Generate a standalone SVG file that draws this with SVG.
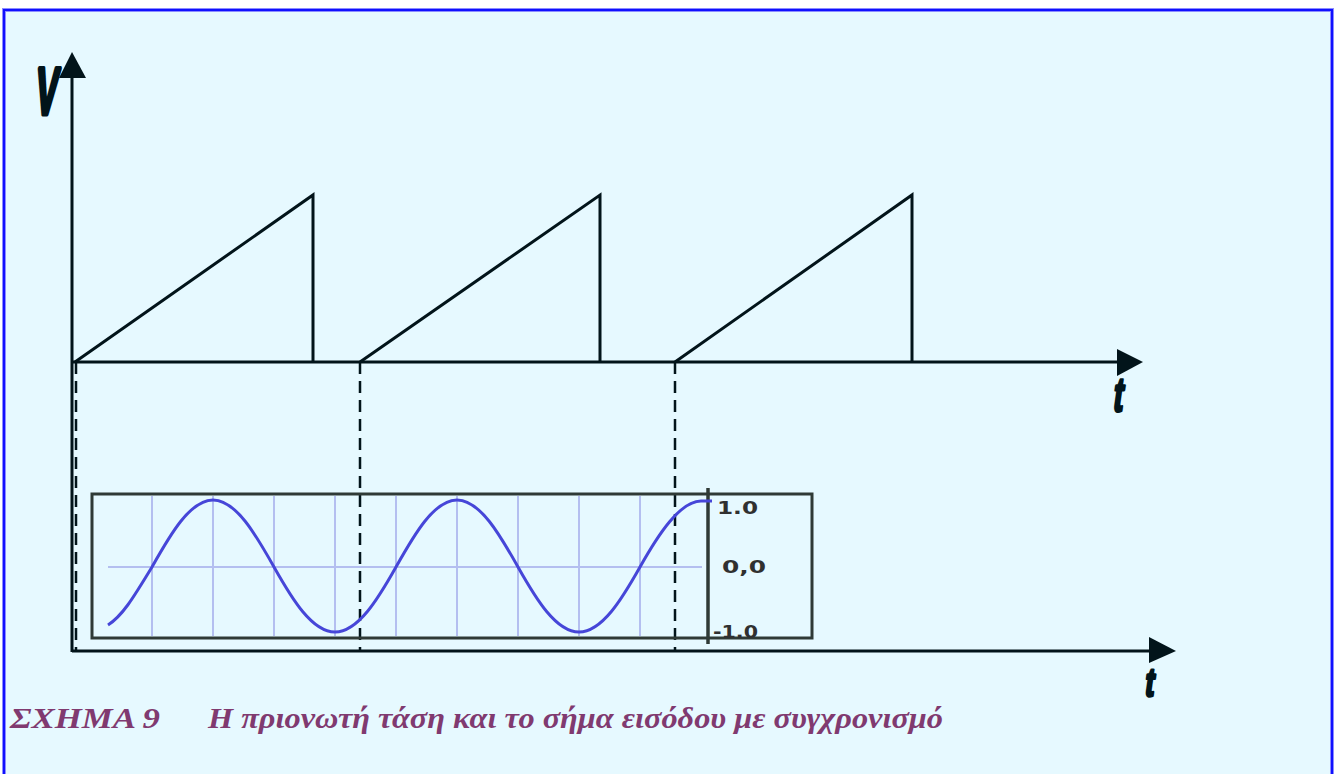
<svg xmlns="http://www.w3.org/2000/svg" width="1338" height="774" viewBox="0 0 1338 774">
<defs>
<style>
.ax{stroke:#02141a;stroke-width:3;fill:none}
.saw{stroke:#02141a;stroke-width:3;fill:none;stroke-linejoin:miter}
.dash{stroke:#02141a;stroke-width:2.5;stroke-dasharray:12 7;fill:none}
.grid{stroke:#b4bff0;stroke-width:2;fill:none}
.box{stroke:#2f3a36;stroke-width:3;fill:none}
.lbl{font-family:"Liberation Sans",Arial,sans-serif;font-weight:bold;fill:#02141a;stroke:#02141a;stroke-linejoin:round}
.scale{font-family:"DejaVu Sans","Liberation Sans",sans-serif;font-weight:bold;font-size:18px;fill:#303030}
.cap{font-family:"Liberation Serif","DejaVu Serif",serif;font-style:italic;font-weight:bold;font-size:30px;fill:#803a70}
.head{fill:#02141a}
</style>
</defs>
<rect x="0" y="0" width="1338" height="774" fill="#ffffff"/>
<rect x="4" y="10" width="1328" height="780" fill="#e6f9ff" stroke="#8c8cff" stroke-width="4"/>
<rect x="4" y="10" width="1328" height="780" fill="none" stroke="#1010ff" stroke-width="2"/>

<g id="connectors">
<line class="ax" x1="72" y1="76" x2="72" y2="652"/>
<polygon class="head" points="72,52 59,78 86,78"/>
<line class="ax" x1="72" y1="362" x2="1120" y2="362"/>
<polygon class="head" points="1143,362 1117,349 1117,376"/>
<line class="ax" x1="72" y1="651" x2="1152" y2="651"/>
<polygon class="head" points="1176,651 1149,637 1149,663"/>
<line class="dash" x1="76" y1="362" x2="76" y2="650"/>
<line class="dash" x1="360" y1="362" x2="360" y2="650"/>
<line class="dash" x1="675" y1="362" x2="675" y2="650"/>
</g>

<g id="sawtooth">
<polyline class="saw" points="75,362 313,195 313,362"/>
<polyline class="saw" points="360,362 600,195 600,362"/>
<polyline class="saw" points="675,362 912,195 912,362"/>
</g>

<g id="labels">
<text class="lbl" font-size="66" stroke-width="5" transform="translate(34,114) skewX(-6) scale(0.5,1)">V</text>
<text class="lbl" font-size="48" stroke-width="3" transform="translate(1112,411) skewX(-8) scale(0.62,1)">t</text>
<text class="lbl" font-size="40" stroke-width="3" transform="translate(1144,696) skewX(-8) scale(0.68,1)">t</text>
</g>

<g id="scope">
<g class="grid">
<line x1="152" y1="496" x2="152" y2="636"/>
<line x1="213" y1="496" x2="213" y2="636"/>
<line x1="274" y1="496" x2="274" y2="636"/>
<line x1="335" y1="496" x2="335" y2="636"/>
<line x1="396" y1="496" x2="396" y2="636"/>
<line x1="457" y1="496" x2="457" y2="636"/>
<line x1="518" y1="496" x2="518" y2="636"/>
<line x1="579" y1="496" x2="579" y2="636"/>
<line x1="640" y1="496" x2="640" y2="636"/>
<line x1="108" y1="567" x2="702" y2="567"/>
</g>
<rect class="box" x="92" y="494" width="720" height="144"/>
<line x1="708" y1="488" x2="708" y2="644" stroke="#2f3a36" stroke-width="3.5"/>
<path d="M108,625 C122,616 132,600 152,567 C170,535 190,500 213,500 C236,500 256,535 274,567 C292,599 312,632 335,632 C358,632 378,599 396,567 C414,535 434,500 457,500 C480,500 500,535 518,567 C536,599 556,632 579,632 C602,632 622,599 640,567 C658,535 680,501 701,501 L712,501" fill="none" stroke="#4646d8" stroke-width="3"/>
<text class="scale" x="717" y="514" textLength="41" lengthAdjust="spacingAndGlyphs">1.0</text>
<text class="scale" x="722" y="573" textLength="44" lengthAdjust="spacingAndGlyphs">0,0</text>
<text class="scale" x="713" y="638" textLength="45" lengthAdjust="spacingAndGlyphs">-1.0</text>
</g>

<g id="caption">
<text class="cap" x="10" y="728" textLength="150" lengthAdjust="spacingAndGlyphs">ΣΧΗΜΑ 9</text>
<text class="cap" x="208" y="728" textLength="735" lengthAdjust="spacingAndGlyphs">Η πριονωτή τάση και το σήμα εισόδου με συγχρονισμό</text>
</g>
</svg>
